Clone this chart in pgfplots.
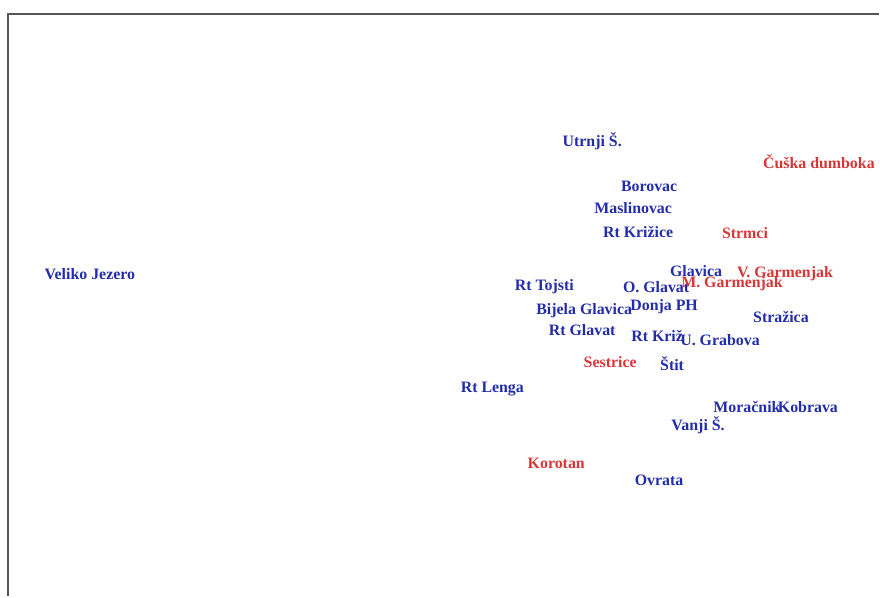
\documentclass[border=0pt]{standalone}
\usepackage{fontspec}
\setmainfont{Liberation Serif}
\usepackage{pgfplots}
\usepackage{pgfplotstable}
\pgfplotsset{compat=1.18}
\definecolor{lblblue}{RGB}{35,45,170}
\definecolor{lblred}{RGB}{215,55,55}
\definecolor{framegray}{RGB}{85,85,90}
\pgfplotstableread{
x y lab
593 141 {Utrnji Š.}
650 187 {Borovac}
634 208 {Maslinovac}
639 232 {Rt Križice}
90 274 {Veliko Jezero}
697 271 {Glavica}
545 287 {Rt Tojsti}
657 287 {O. Glavat}
585 311 {Bijela Glavica}
665 307 {Donja PH}
782 317 {Stražica}
583 331 {Rt Glavat}
658 336 {Rt Križ}
721 341 {U. Grabova}
673 364 {Štit}
493 390 {Rt Lenga}
748 408 {Moračnik}
809 408 {Kobrava}
699 426 {Vanji Š.}
660 481 {Ovrata}
}\bluetab
\pgfplotstableread{
x y lab
820 162 {Čuška dumboka}
746 233 {Strmci}
786 274 {V. Garmenjak}
733 284 {M. Garmenjak}
611 363 {Sestrice}
557 464 {Korotan}
}\redtab
\begin{document}
\begin{tikzpicture}
\begin{axis}[
  scale only axis, width=440pt, height=298.5pt,
  xmin=0, xmax=880, ymin=0, ymax=597, y dir=reverse,
  hide axis, clip=false,
  nodes near coords style={anchor=center, inner sep=0pt, font=\fontsize{7.95}{9}\selectfont\bfseries},
]
\addplot[draw=none, mark=none, forget plot] coordinates {(0,0) (880,597)};
\addplot[color=framegray, line width=1.2pt, mark=none] coordinates {(8,597) (8,14) (880,14)};
\addplot[draw=none, mark=none, nodes near coords, point meta=explicit symbolic,
  nodes near coords style={text=lblblue}] table[x=x, y=y, meta=lab] {\bluetab};
\addplot[draw=none, mark=none, nodes near coords, point meta=explicit symbolic,
  nodes near coords style={text=lblred}] table[x=x, y=y, meta=lab] {\redtab};
\end{axis}
\end{tikzpicture}
\end{document}
